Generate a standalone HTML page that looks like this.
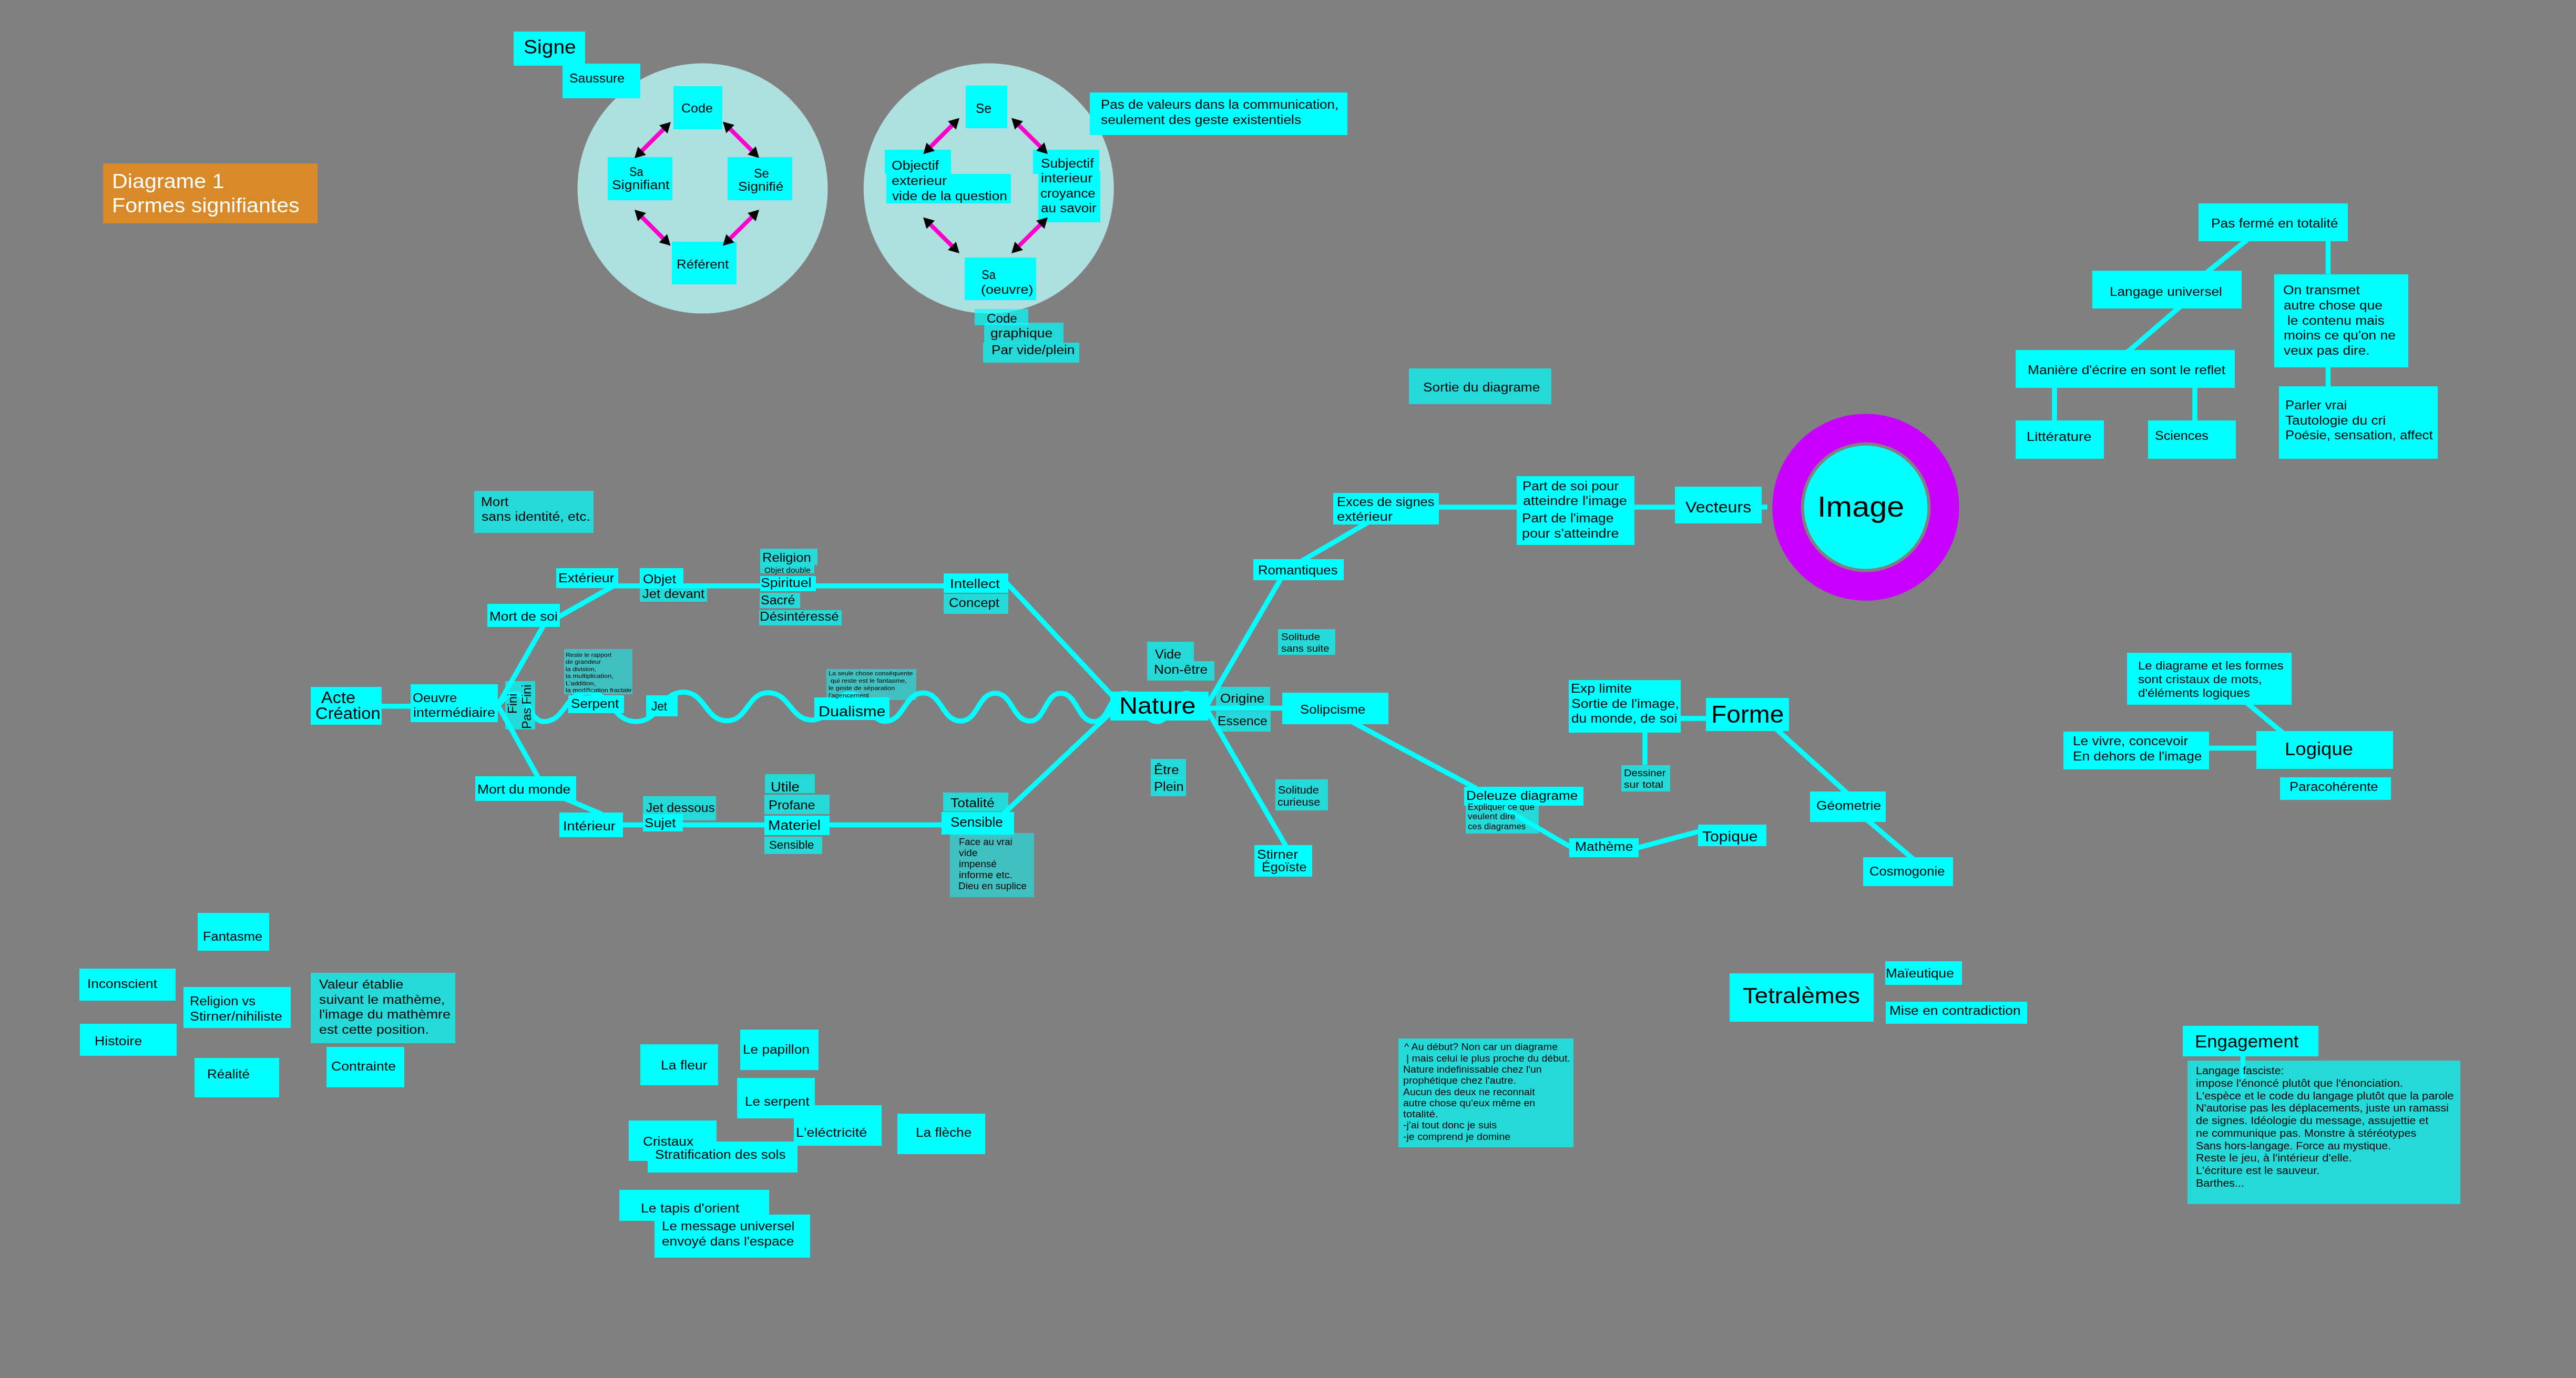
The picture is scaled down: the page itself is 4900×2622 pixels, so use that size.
<!DOCTYPE html>
<html><head><meta charset="utf-8"><style>
html,body{margin:0;padding:0;}
body{width:4900px;height:2622px;background:#808080;position:relative;overflow:hidden;font-family:"Liberation Sans",sans-serif;}
.r{position:absolute;}
.t{position:absolute;white-space:pre;transform-origin:0 0;will-change:transform;}
svg{position:absolute;left:0;top:0;}
svg line, svg path{stroke:#00ffff;stroke-width:9.5;stroke-linecap:round;}
svg line.b{stroke-linecap:butt;}
svg line.m{stroke:#ff00cc;stroke-width:8;stroke-linecap:butt;}
svg polygon.h{fill:#000;}
</style></head><body>
<svg width="4900" height="2622" viewBox="0 0 4900 2622">
<circle cx="1336.5" cy="358.5" r="238" fill="#aee0e0"/>
<circle cx="1880.75" cy="358.5" r="238" fill="#aee0e0"/>
<circle cx="3549" cy="965.2" r="177.8" fill="#c800ff"/>
<circle cx="3549" cy="965.2" r="123.4" fill="#808080"/>
<circle cx="3549" cy="965.2" r="117.4" fill="#00ffff"/>
<line class="b" x1="725.75" y1="1343.75" x2="781.00" y2="1343.75"/>
<line x1="944.02" y1="1347.21" x2="1035.48" y2="1187.54"/>
<line x1="1059.78" y1="1175.45" x2="1165.00" y2="1116.00"/>
<line class="b" x1="1165.00" y1="1114.70" x2="1795.00" y2="1114.70"/>
<line x1="1913.90" y1="1108.12" x2="2115.10" y2="1323.38"/>
<line x1="944.07" y1="1336.76" x2="1025.43" y2="1482.24"/>
<line x1="1076.96" y1="1520.69" x2="1143.04" y2="1548.31"/>
<line class="b" x1="1184.50" y1="1569.50" x2="1791.00" y2="1569.50"/>
<line x1="1908.13" y1="1549.11" x2="2116.37" y2="1352.89"/>
<line class="b" x1="2298.75" y1="1347.50" x2="2439.25" y2="1347.50"/>
<line x1="2296.98" y1="1340.18" x2="2438.02" y2="1098.32"/>
<line x1="2477.41" y1="1066.51" x2="2600.69" y2="994.89"/>
<line class="b" x1="2737.00" y1="965.00" x2="2885.00" y2="965.00"/>
<line class="b" x1="3108.90" y1="965.00" x2="3185.70" y2="965.00"/>
<line class="b" x1="3350.90" y1="965.00" x2="3361.80" y2="965.00"/>
<line x1="2296.99" y1="1352.31" x2="2448.01" y2="1613.19"/>
<line x1="2574.71" y1="1375.17" x2="2807.79" y2="1499.83"/>
<line x1="2854.81" y1="1534.49" x2="2990.19" y2="1613.01"/>
<line x1="3111.20" y1="1614.04" x2="3235.80" y2="1580.96"/>
<line class="b" x1="3197.00" y1="1367.00" x2="3245.00" y2="1367.00"/>
<line class="b" x1="3129.00" y1="1393.50" x2="3129.00" y2="1455.50"/>
<line x1="3378.05" y1="1386.47" x2="3514.45" y2="1510.03"/>
<line x1="3550.43" y1="1559.11" x2="3639.57" y2="1634.89"/>
<line x1="4272.89" y1="1336.66" x2="4342.11" y2="1394.34"/>
<line class="b" x1="4201.50" y1="1423.50" x2="4292.00" y2="1423.50"/>
<line x1="4275.66" y1="455.22" x2="4197.34" y2="518.78"/>
<line class="b" x1="4428.50" y1="459.00" x2="4428.50" y2="521.50"/>
<line x1="4147.54" y1="583.08" x2="4047.46" y2="669.42"/>
<line class="b" x1="3908.00" y1="737.50" x2="3908.00" y2="800.00"/>
<line class="b" x1="4175.00" y1="737.50" x2="4175.00" y2="800.00"/>
<line class="b" x1="4428.50" y1="699.00" x2="4428.50" y2="735.00"/>
<line x1="4266.50" y1="2009.75" x2="4266.50" y2="2048.00"/>
<path d="M947,1342 C956.6,1334 963.0,1320 979,1320 C1006.5,1320 1006.5,1373 1034,1373 C1075.5,1373 1075.5,1317 1117,1317 C1163.5,1317 1163.5,1373 1210,1373 C1255.0,1373 1255.0,1317 1300,1317 C1341.5,1317 1341.5,1371.5 1383,1371.5 C1422.0,1371.5 1422.0,1318 1461,1318 C1503.0,1318 1503.0,1370 1545,1370 C1581.0,1370 1581.0,1320 1617,1320 C1650.5,1320 1650.5,1372.5 1684,1372.5 C1720.0,1372.5 1720.0,1318.5 1756,1318.5 C1791.75,1318.5 1791.75,1372 1827.5,1372 C1860.25,1372 1860.25,1319 1893,1319 C1926.0,1319 1926.0,1372 1959,1372 C1988.25,1372 1988.25,1319 2017.5,1319 C2049.25,1319 2049.25,1373 2081,1373 C2110.0,1373 2110.0,1319 2139,1319 C2170.0,1319 2170.0,1373 2201,1373 C2229.0,1373 2229.0,1319 2257,1319 C2278.5,1319 2287.1,1358 2300,1350" fill="none"/>
</svg>
<div class="r" style="left:196px;top:311px;width:408px;height:114px;background:#d98a28"></div>
<div class="r" style="left:977px;top:60px;width:136px;height:65px;background:#00ffff"></div>
<div class="r" style="left:1070px;top:121px;width:148px;height:66px;background:#00ffff"></div>
<div class="r" style="left:1281px;top:164px;width:92.5px;height:81.5px;background:#00ffff"></div>
<div class="r" style="left:1156px;top:299px;width:122.5px;height:81.5px;background:#00ffff"></div>
<div class="r" style="left:1384px;top:299px;width:123px;height:81.5px;background:#00ffff"></div>
<div class="r" style="left:1278px;top:459.5px;width:122.5px;height:81px;background:#00ffff"></div>
<div class="r" style="left:1836.5px;top:162.5px;width:79.5px;height:81.5px;background:#00ffff"></div>
<div class="r" style="left:1683px;top:285px;width:125.8px;height:46px;background:#00ffff"></div>
<div class="r" style="left:1686px;top:331px;width:237px;height:55.8px;background:#00ffff"></div>
<div class="r" style="left:1965px;top:285px;width:126px;height:46px;background:#00ffff"></div>
<div class="r" style="left:1975.2px;top:325px;width:117.5px;height:98.2px;background:#00ffff"></div>
<div class="r" style="left:1835px;top:490px;width:135.5px;height:80.5px;background:#00ffff"></div>
<div class="r" style="left:1854px;top:588px;width:102px;height:30.5px;background:rgba(0,255,255,0.70)"></div>
<div class="r" style="left:1871.5px;top:613.5px;width:151px;height:39px;background:rgba(0,255,255,0.70)"></div>
<div class="r" style="left:1870px;top:651.5px;width:182.5px;height:38px;background:rgba(0,255,255,0.70)"></div>
<div class="r" style="left:2072.5px;top:175.75px;width:490.5px;height:81.5px;background:#00ffff"></div>
<div class="r" style="left:2680px;top:700.5px;width:270.5px;height:68px;background:rgba(0,255,255,0.70)"></div>
<div class="r" style="left:2536px;top:938px;width:201px;height:59.5px;background:#00ffff"></div>
<div class="r" style="left:2885px;top:905.7px;width:223.9px;height:130.9px;background:#00ffff"></div>
<div class="r" style="left:3185.7px;top:926px;width:165.2px;height:69.7px;background:#00ffff"></div>
<div class="r" style="left:3462px;top:965px;width:1px;height:1px;background:transparent"></div>
<div class="r" style="left:2384px;top:1063.5px;width:172px;height:40px;background:#00ffff"></div>
<div class="r" style="left:1795px;top:1090.5px;width:123px;height:37px;background:#00ffff"></div>
<div class="r" style="left:1795px;top:1129.5px;width:123px;height:38px;background:rgba(0,255,255,0.70)"></div>
<div class="r" style="left:4182px;top:387px;width:284px;height:72px;background:#00ffff"></div>
<div class="r" style="left:3980px;top:515px;width:284px;height:72px;background:#00ffff"></div>
<div class="r" style="left:4325.5px;top:521.5px;width:255px;height:177.5px;background:#00ffff"></div>
<div class="r" style="left:3834px;top:665.5px;width:416.5px;height:72px;background:#00ffff"></div>
<div class="r" style="left:3834px;top:800px;width:167.5px;height:72.5px;background:#00ffff"></div>
<div class="r" style="left:4085.5px;top:800px;width:167px;height:72.5px;background:#00ffff"></div>
<div class="r" style="left:4334.5px;top:735px;width:302px;height:137.5px;background:#00ffff"></div>
<div class="r" style="left:902px;top:934px;width:227.25px;height:80px;background:rgba(0,255,255,0.70)"></div>
<div class="r" style="left:1058px;top:1080.75px;width:117.5px;height:38.5px;background:#00ffff"></div>
<div class="r" style="left:926.75px;top:1149.25px;width:138.25px;height:43.5px;background:#00ffff"></div>
<div class="r" style="left:591px;top:1306.5px;width:134.75px;height:72px;background:#00ffff"></div>
<div class="r" style="left:781px;top:1302px;width:166px;height:72px;background:#00ffff"></div>
<div class="r" style="left:960.9px;top:1296.1px;width:57.1px;height:92.3px;background:rgba(0,255,255,0.70)"></div>
<div class="r" style="left:1072.5px;top:1235.25px;width:130px;height:86px;background:rgba(0,255,255,0.50)"></div>
<div class="r" style="left:1081px;top:1323px;width:106px;height:34px;background:#00ffff"></div>
<div class="r" style="left:1228.5px;top:1323.25px;width:60px;height:39.25px;background:#00ffff"></div>
<div class="r" style="left:1216.5px;top:1080.75px;width:83.5px;height:35.25px;background:#00ffff"></div>
<div class="r" style="left:1217.25px;top:1119.25px;width:128px;height:25.25px;background:rgba(0,255,255,0.70)"></div>
<div class="r" style="left:1446px;top:1043.75px;width:108.75px;height:31.5px;background:rgba(0,255,255,0.70)"></div>
<div class="r" style="left:1446px;top:1073.75px;width:103.25px;height:17px;background:rgba(0,255,255,0.70)"></div>
<div class="r" style="left:1446px;top:1096.25px;width:105.75px;height:28.5px;background:#00ffff"></div>
<div class="r" style="left:1445px;top:1128px;width:77px;height:28.75px;background:rgba(0,255,255,0.70)"></div>
<div class="r" style="left:1444px;top:1160.75px;width:156.5px;height:28.75px;background:rgba(0,255,255,0.70)"></div>
<div class="r" style="left:1572px;top:1272.5px;width:170.5px;height:59px;background:rgba(0,255,255,0.50)"></div>
<div class="r" style="left:1548.5px;top:1327px;width:143px;height:43px;background:#00ffff"></div>
<div class="r" style="left:904px;top:1477px;width:191.75px;height:46.75px;background:#00ffff"></div>
<div class="r" style="left:1063.5px;top:1546px;width:121px;height:46.5px;background:#00ffff"></div>
<div class="r" style="left:1223px;top:1514.5px;width:139px;height:46px;background:rgba(0,255,255,0.70)"></div>
<div class="r" style="left:1223px;top:1548.5px;width:75.5px;height:33px;background:#00ffff"></div>
<div class="r" style="left:1454.5px;top:1472.5px;width:95px;height:36.5px;background:rgba(0,255,255,0.70)"></div>
<div class="r" style="left:1454px;top:1512px;width:124px;height:36.5px;background:rgba(0,255,255,0.70)"></div>
<div class="r" style="left:1454px;top:1552px;width:124px;height:36.5px;background:#00ffff"></div>
<div class="r" style="left:1453.5px;top:1591.5px;width:110.5px;height:33px;background:rgba(0,255,255,0.70)"></div>
<div class="r" style="left:1793.5px;top:1507.5px;width:124px;height:36px;background:rgba(0,255,255,0.70)"></div>
<div class="r" style="left:1791px;top:1545px;width:137.5px;height:42.5px;background:#00ffff"></div>
<div class="r" style="left:1807px;top:1585px;width:159.5px;height:121.5px;background:rgba(0,255,255,0.50)"></div>
<div class="r" style="left:2111.75px;top:1316.25px;width:187px;height:54.5px;background:#00ffff"></div>
<div class="r" style="left:2182px;top:1221.25px;width:88.5px;height:37.75px;background:rgba(0,255,255,0.70)"></div>
<div class="r" style="left:2182px;top:1257.5px;width:128px;height:37.25px;background:rgba(0,255,255,0.70)"></div>
<div class="r" style="left:2312.5px;top:1307px;width:103.25px;height:35.5px;background:rgba(0,255,255,0.70)"></div>
<div class="r" style="left:2313px;top:1352.5px;width:103.75px;height:39.25px;background:rgba(0,255,255,0.70)"></div>
<div class="r" style="left:2439.25px;top:1318px;width:201.25px;height:60px;background:#00ffff"></div>
<div class="r" style="left:2430.75px;top:1197px;width:108.75px;height:49.25px;background:rgba(0,255,255,0.70)"></div>
<div class="r" style="left:2189px;top:1444.25px;width:66.5px;height:36.25px;background:rgba(0,255,255,0.70)"></div>
<div class="r" style="left:2189.25px;top:1478.75px;width:67px;height:35.75px;background:rgba(0,255,255,0.70)"></div>
<div class="r" style="left:2426px;top:1482.5px;width:100px;height:59.5px;background:rgba(0,255,255,0.70)"></div>
<div class="r" style="left:2386px;top:1608px;width:109.5px;height:59.5px;background:#00ffff"></div>
<div class="r" style="left:2784.5px;top:1497px;width:227px;height:36px;background:#00ffff"></div>
<div class="r" style="left:2787.5px;top:1526.5px;width:139px;height:59px;background:rgba(0,255,255,0.70)"></div>
<div class="r" style="left:2984.5px;top:1594.5px;width:132.5px;height:36px;background:#00ffff"></div>
<div class="r" style="left:3229.5px;top:1569px;width:130px;height:40.5px;background:#00ffff"></div>
<div class="r" style="left:2983.5px;top:1294px;width:213.5px;height:99.5px;background:#00ffff"></div>
<div class="r" style="left:3245px;top:1327.5px;width:158px;height:63px;background:#00ffff"></div>
<div class="r" style="left:3083.5px;top:1455.5px;width:93px;height:50.5px;background:rgba(0,255,255,0.70)"></div>
<div class="r" style="left:3442.5px;top:1506px;width:144px;height:57.5px;background:#00ffff"></div>
<div class="r" style="left:3544px;top:1631px;width:171px;height:54.5px;background:#00ffff"></div>
<div class="r" style="left:4046px;top:1242px;width:313px;height:98.5px;background:#00ffff"></div>
<div class="r" style="left:4292px;top:1390.5px;width:259.5px;height:72px;background:#00ffff"></div>
<div class="r" style="left:3924.5px;top:1391.5px;width:277px;height:72px;background:#00ffff"></div>
<div class="r" style="left:4337px;top:1478.5px;width:211px;height:43px;background:#00ffff"></div>
<div class="r" style="left:3290px;top:1852px;width:273.5px;height:91.5px;background:#00ffff"></div>
<div class="r" style="left:3586px;top:1829px;width:146px;height:44.5px;background:#00ffff"></div>
<div class="r" style="left:3587px;top:1906px;width:268.5px;height:41.5px;background:#00ffff"></div>
<div class="r" style="left:2660px;top:1975.5px;width:333px;height:207px;background:rgba(0,255,255,0.70)"></div>
<div class="r" style="left:4151.75px;top:1951.75px;width:258px;height:58px;background:#00ffff"></div>
<div class="r" style="left:4161.25px;top:2018.25px;width:518.75px;height:272.35px;background:rgba(0,255,255,0.70)"></div>
<div class="r" style="left:376px;top:1736.5px;width:135.5px;height:72px;background:#00ffff"></div>
<div class="r" style="left:150.5px;top:1843px;width:183px;height:60.5px;background:#00ffff"></div>
<div class="r" style="left:349px;top:1878px;width:203.5px;height:78px;background:#00ffff"></div>
<div class="r" style="left:152px;top:1947.5px;width:183.5px;height:61px;background:#00ffff"></div>
<div class="r" style="left:370px;top:2013px;width:160.5px;height:74.5px;background:#00ffff"></div>
<div class="r" style="left:590.5px;top:1851px;width:275px;height:133.5px;background:rgba(0,255,255,0.70)"></div>
<div class="r" style="left:620.5px;top:1992px;width:148px;height:77px;background:#00ffff"></div>
<div class="r" style="left:1217.5px;top:1987px;width:148px;height:77.5px;background:#00ffff"></div>
<div class="r" style="left:1408px;top:1958.5px;width:148.5px;height:77px;background:#00ffff"></div>
<div class="r" style="left:1509.5px;top:2103px;width:167px;height:77px;background:#00ffff"></div>
<div class="r" style="left:1401.5px;top:2051px;width:148.5px;height:76.5px;background:#00ffff"></div>
<div class="r" style="left:1706.5px;top:2119px;width:167px;height:76.5px;background:#00ffff"></div>
<div class="r" style="left:1195.5px;top:2132px;width:167px;height:76.5px;background:#00ffff"></div>
<div class="r" style="left:1232px;top:2171.5px;width:284.5px;height:59px;background:#00ffff"></div>
<div class="r" style="left:1178px;top:2263.5px;width:284.5px;height:59px;background:#00ffff"></div>
<div class="r" style="left:1244.5px;top:2311px;width:296px;height:81.5px;background:#00ffff"></div>
<svg width="4900" height="2622" viewBox="0 0 4900 2622"><line class="m" x1="1218.31" y1="289.69" x2="1264.69" y2="243.31"/><polygon class="h" points="1207.00,301.00 1228.92,294.64 1213.36,279.08"/><polygon class="h" points="1276.00,232.00 1269.64,253.92 1254.08,238.36"/><line class="m" x1="1386.31" y1="242.81" x2="1432.69" y2="289.19"/><polygon class="h" points="1375.00,231.50 1381.36,253.42 1396.92,237.86"/><polygon class="h" points="1444.00,300.50 1422.08,294.14 1437.64,278.58"/><line class="m" x1="1218.31" y1="410.31" x2="1264.19" y2="456.19"/><polygon class="h" points="1207.00,399.00 1213.36,420.92 1228.92,405.36"/><polygon class="h" points="1275.50,467.50 1253.58,461.14 1269.14,445.58"/><line class="m" x1="1432.65" y1="410.27" x2="1386.35" y2="456.23"/><polygon class="h" points="1444.00,399.00 1422.06,405.28 1437.56,420.90"/><polygon class="h" points="1375.00,467.50 1381.44,445.60 1396.94,461.22"/><line class="m" x1="1813.69" y1="235.81" x2="1767.51" y2="281.99"/><polygon class="h" points="1825.00,224.50 1803.08,230.86 1818.64,246.42"/><polygon class="h" points="1756.20,293.30 1762.56,271.38 1778.12,286.94"/><line class="m" x1="1935.35" y1="235.77" x2="1981.65" y2="281.73"/><polygon class="h" points="1924.00,224.50 1930.44,246.40 1945.94,230.78"/><polygon class="h" points="1993.00,293.00 1971.06,286.72 1986.56,271.10"/><line class="m" x1="1767.35" y1="424.77" x2="1813.65" y2="470.73"/><polygon class="h" points="1756.00,413.50 1762.44,435.40 1777.94,419.78"/><polygon class="h" points="1825.00,482.00 1803.06,475.72 1818.56,460.10"/><line class="m" x1="1981.65" y1="424.77" x2="1935.35" y2="470.73"/><polygon class="h" points="1993.00,413.50 1971.06,419.78 1986.56,435.40"/><polygon class="h" points="1924.00,482.00 1930.44,460.10 1945.94,475.72"/></svg>
<div class="t" style="left:213.39px;top:326.49px;font-size:38.4px;line-height:38.4px;transform:scaleX(1.0764);color:#fff">Diagrame 1</div>
<div class="t" style="left:213.41px;top:372.29px;font-size:38.4px;line-height:38.4px;transform:scaleX(1.0716);color:#fff">Formes signifiantes</div>
<div class="t" style="left:995.84px;top:71.24px;font-size:37.51px;line-height:37.51px;transform:scaleX(1.0404);color:#000">Signe</div>
<div class="t" style="left:1083.18px;top:136.72px;font-size:24.19px;line-height:24.19px;transform:scaleX(1.0287);color:#000">Saussure</div>
<div class="t" style="left:1296.25px;top:194.28px;font-size:24.48px;line-height:24.48px;transform:scaleX(1.0237);color:#000">Code</div>
<div class="t" style="left:1197.02px;top:315.41px;font-size:24.32px;line-height:24.32px;transform:scaleX(0.8918);color:#000">Sa</div>
<div class="t" style="left:1163.8px;top:340.41px;font-size:24.32px;line-height:24.32px;transform:scaleX(1.0936);color:#000">Signifiant</div>
<div class="t" style="left:1434.44px;top:317.8px;font-size:24.45px;line-height:24.45px;transform:scaleX(0.9612);color:#000">Se</div>
<div class="t" style="left:1403.82px;top:342.8px;font-size:24.45px;line-height:24.45px;transform:scaleX(1.0769);color:#000">Signifié</div>
<div class="t" style="left:1286.93px;top:491.29px;font-size:24.45px;line-height:24.45px;transform:scaleX(1.0577);color:#000">Référent</div>
<div class="t" style="left:1856.4px;top:193.56px;font-size:25.32px;line-height:25.32px;transform:scaleX(0.9612);color:#000">Se</div>
<div class="t" style="left:1696.31px;top:303.31px;font-size:24.08px;line-height:24.08px;transform:scaleX(1.1014);color:#000">Objectif</div>
<div class="t" style="left:1696.42px;top:331.96px;font-size:24.08px;line-height:24.08px;transform:scaleX(1.1204);color:#000">exterieur</div>
<div class="t" style="left:1696.79px;top:360.61px;font-size:24.08px;line-height:24.08px;transform:scaleX(1.0900);color:#000">vide de la question</div>
<div class="t" style="left:1979.52px;top:298.73px;font-size:24.06px;line-height:24.06px;transform:scaleX(1.0893);color:#000">Subjectif</div>
<div class="t" style="left:1979.62px;top:327.3px;font-size:24.06px;line-height:24.06px;transform:scaleX(1.1304);color:#000">interieur</div>
<div class="t" style="left:1979.44px;top:355.87px;font-size:24.06px;line-height:24.06px;transform:scaleX(1.0726);color:#000">croyance</div>
<div class="t" style="left:1979.54px;top:384.44px;font-size:24.06px;line-height:24.06px;transform:scaleX(1.0837);color:#000">au savoir</div>
<div class="t" style="left:1866.51px;top:511.1px;font-size:24.68px;line-height:24.68px;transform:scaleX(0.8918);color:#000">Sa</div>
<div class="t" style="left:1866.37px;top:539.1px;font-size:24.68px;line-height:24.68px;transform:scaleX(1.0805);color:#000">(oeuvre)</div>
<div class="t" style="left:1876.79px;top:594.5px;font-size:23.62px;line-height:23.62px;transform:scaleX(1.0237);color:#000">Code</div>
<div class="t" style="left:1884.44px;top:622.41px;font-size:24.32px;line-height:24.32px;transform:scaleX(1.0941);color:#000">graphique</div>
<div class="t" style="left:1885.91px;top:654.33px;font-size:24.41px;line-height:24.41px;transform:scaleX(1.0702);color:#000">Par vide/plein</div>
<div class="t" style="left:2093.67px;top:187.26px;font-size:24.2px;line-height:24.2px;transform:scaleX(1.0744);color:#000">Pas de valeurs dans la communication,</div>
<div class="t" style="left:2094.03px;top:215.51px;font-size:24.2px;line-height:24.2px;transform:scaleX(1.0903);color:#000">seulement des geste existentiels</div>
<div class="t" style="left:2707.32px;top:724.52px;font-size:24.19px;line-height:24.19px;transform:scaleX(1.0880);color:#000">Sortie du diagrame</div>
<div class="t" style="left:2542.96px;top:942.9px;font-size:24.33px;line-height:24.33px;transform:scaleX(1.0471);color:#000">Exces de signes</div>
<div class="t" style="left:2542.98px;top:971.4px;font-size:24.33px;line-height:24.33px;transform:scaleX(1.1204);color:#000">extérieur</div>
<div class="t" style="left:2895.93px;top:912.79px;font-size:24.22px;line-height:24.22px;transform:scaleX(1.0704);color:#000">Part de soi pour</div>
<div class="t" style="left:2896.92px;top:941.49px;font-size:24.22px;line-height:24.22px;transform:scaleX(1.1186);color:#000">atteindre l&#x27;image</div>
<div class="t" style="left:2894.7px;top:974.49px;font-size:24.22px;line-height:24.22px;transform:scaleX(1.0840);color:#000">Part de l&#x27;image</div>
<div class="t" style="left:2895.05px;top:1003.19px;font-size:24.22px;line-height:24.22px;transform:scaleX(1.1100);color:#000">pour s&#x27;atteindre</div>
<div class="t" style="left:3205.84px;top:949.93px;font-size:30.21px;line-height:30.21px;transform:scaleX(1.0663);color:#000">Vecteurs</div>
<div class="t" style="left:3457.04px;top:937.31px;font-size:55.14px;line-height:55.14px;transform:scaleX(1.0799);color:#000">Image</div>
<div class="t" style="left:2392.94px;top:1073.02px;font-size:24.19px;line-height:24.19px;transform:scaleX(1.0630);color:#000">Romantiques</div>
<div class="t" style="left:1806.53px;top:1098.79px;font-size:24.46px;line-height:24.46px;transform:scaleX(1.1226);color:#000">Intellect</div>
<div class="t" style="left:1805.21px;top:1135.41px;font-size:24.32px;line-height:24.32px;transform:scaleX(1.0601);color:#000">Concept</div>
<div class="t" style="left:4205.89px;top:413px;font-size:24.22px;line-height:24.22px;transform:scaleX(1.0865);color:#000">Pas fermé en totalité</div>
<div class="t" style="left:4012.91px;top:542.88px;font-size:24.36px;line-height:24.36px;transform:scaleX(1.0744);color:#000">Langage universel</div>
<div class="t" style="left:4343.31px;top:540.43px;font-size:24.29px;line-height:24.29px;transform:scaleX(1.0913);color:#000">On transmet</div>
<div class="t" style="left:4343.57px;top:569.03px;font-size:24.29px;line-height:24.29px;transform:scaleX(1.0785);color:#000">autre chose que</div>
<div class="t" style="left:4351.1px;top:597.63px;font-size:24.29px;line-height:24.29px;transform:scaleX(1.0872);color:#000">le contenu mais</div>
<div class="t" style="left:4343.6px;top:626.23px;font-size:24.29px;line-height:24.29px;transform:scaleX(1.0841);color:#000">moins ce qu&#x27;on ne</div>
<div class="t" style="left:4343.79px;top:654.83px;font-size:24.29px;line-height:24.29px;transform:scaleX(1.0826);color:#000">veux pas dire.</div>
<div class="t" style="left:3857.39px;top:691.56px;font-size:24.14px;line-height:24.14px;transform:scaleX(1.0937);color:#000">Manière d&#x27;écrire en sont le reflet</div>
<div class="t" style="left:3854.81px;top:818.86px;font-size:24.37px;line-height:24.37px;transform:scaleX(1.1254);color:#000">Littérature</div>
<div class="t" style="left:4099.37px;top:816.85px;font-size:24.39px;line-height:24.39px;transform:scaleX(1.0303);color:#000">Sciences</div>
<div class="t" style="left:4347.44px;top:759.03px;font-size:24.17px;line-height:24.17px;transform:scaleX(1.0654);color:#000">Parler vrai</div>
<div class="t" style="left:4346.66px;top:787.53px;font-size:24.17px;line-height:24.17px;transform:scaleX(1.0866);color:#000">Tautologie du cri</div>
<div class="t" style="left:4347.44px;top:816.03px;font-size:24.17px;line-height:24.17px;transform:scaleX(1.0678);color:#000">Poésie, sensation, affect</div>
<div class="t" style="left:915.4px;top:942.5px;font-size:24.21px;line-height:24.21px;transform:scaleX(1.0822);color:#000">Mort</div>
<div class="t" style="left:915.78px;top:971px;font-size:24.21px;line-height:24.21px;transform:scaleX(1.0987);color:#000">sans identité, etc.</div>
<div class="t" style="left:1061.62px;top:1087.98px;font-size:24.23px;line-height:24.23px;transform:scaleX(1.0991);color:#000">Extérieur</div>
<div class="t" style="left:931.15px;top:1160.8px;font-size:24.45px;line-height:24.45px;transform:scaleX(1.0736);color:#000">Mort de soi</div>
<div class="t" style="left:611.25px;top:1311.79px;font-size:30.66px;line-height:30.66px;transform:scaleX(1.0597);color:#000">Acte</div>
<div class="t" style="left:599.61px;top:1342.04px;font-size:30.66px;line-height:30.66px;transform:scaleX(1.0679);color:#000">Création</div>
<div class="t" style="left:785.34px;top:1315.88px;font-size:24.35px;line-height:24.35px;transform:scaleX(1.0574);color:#000">Oeuvre</div>
<div class="t" style="left:785.68px;top:1344.13px;font-size:24.35px;line-height:24.35px;transform:scaleX(1.1080);color:#000">intermédiaire</div>
<div class="t" style="left:1076.02px;top:1240.61px;font-size:11.38px;line-height:11.38px;transform:scaleX(1.0782);color:#000">Reste le rapport</div>
<div class="t" style="left:1076.07px;top:1254.11px;font-size:11.38px;line-height:11.38px;transform:scaleX(1.0942);color:#000">de grandeur</div>
<div class="t" style="left:1076.19px;top:1267.61px;font-size:11.38px;line-height:11.38px;transform:scaleX(1.0936);color:#000">la division,</div>
<div class="t" style="left:1076.17px;top:1281.11px;font-size:11.38px;line-height:11.38px;transform:scaleX(1.1219);color:#000">la multiplication,</div>
<div class="t" style="left:1075.99px;top:1294.61px;font-size:11.38px;line-height:11.38px;transform:scaleX(1.1051);color:#000">L&#x27;addition,</div>
<div class="t" style="left:1076.18px;top:1308.11px;font-size:11.38px;line-height:11.38px;transform:scaleX(1.1096);color:#000">la modification fractale</div>
<div class="t" style="left:1085.83px;top:1327.32px;font-size:24.43px;line-height:24.43px;transform:scaleX(1.0679);color:#000">Serpent</div>
<div class="t" style="left:1239.16px;top:1332.7px;font-size:23.09px;line-height:23.09px;transform:scaleX(0.9752);color:#000">Jet</div>
<div class="t" style="left:1223.06px;top:1090.31px;font-size:24.44px;line-height:24.44px;transform:scaleX(1.0778);color:#000">Objet</div>
<div class="t" style="left:1222.12px;top:1118.25px;font-size:23.91px;line-height:23.91px;transform:scaleX(1.0706);color:#000">Jet devant</div>
<div class="t" style="left:1450.45px;top:1048.53px;font-size:24.48px;line-height:24.48px;transform:scaleX(1.0495);color:#000">Religion</div>
<div class="t" style="left:1453.55px;top:1078.16px;font-size:14.28px;line-height:14.28px;transform:scaleX(1.0856);color:#000">Objet double</div>
<div class="t" style="left:1447.05px;top:1097.07px;font-size:24.43px;line-height:24.43px;transform:scaleX(1.0936);color:#000">Spirituel</div>
<div class="t" style="left:1447.12px;top:1130.24px;font-size:24.52px;line-height:24.52px;transform:scaleX(1.0196);color:#000">Sacré</div>
<div class="t" style="left:1445.43px;top:1161.17px;font-size:24.31px;line-height:24.31px;transform:scaleX(1.0625);color:#000">Désintéressé</div>
<div class="t" style="left:1575.99px;top:1275.97px;font-size:11.84px;line-height:11.84px;transform:scaleX(1.0651);color:#000">La seule chose conséquente</div>
<div class="t" style="left:1579.63px;top:1289.97px;font-size:11.84px;line-height:11.84px;transform:scaleX(1.0960);color:#000">qui reste est le fantasme,</div>
<div class="t" style="left:1576.16px;top:1303.97px;font-size:11.84px;line-height:11.84px;transform:scaleX(1.0860);color:#000">le geste de séparation</div>
<div class="t" style="left:1576.15px;top:1317.97px;font-size:11.84px;line-height:11.84px;transform:scaleX(1.0994);color:#000">l&#x27;agencement</div>
<div class="t" style="left:1556.55px;top:1339.4px;font-size:28.46px;line-height:28.46px;transform:scaleX(1.0742);color:#000">Dualisme</div>
<div class="t" style="left:907.89px;top:1489.99px;font-size:24.23px;line-height:24.23px;transform:scaleX(1.0882);color:#000">Mort du monde</div>
<div class="t" style="left:1071.05px;top:1559.52px;font-size:24.19px;line-height:24.19px;transform:scaleX(1.1263);color:#000">Intérieur</div>
<div class="t" style="left:1229.13px;top:1524.86px;font-size:23.78px;line-height:23.78px;transform:scaleX(1.0303);color:#000">Jet dessous</div>
<div class="t" style="left:1226.33px;top:1554.18px;font-size:24.59px;line-height:24.59px;transform:scaleX(1.0602);color:#000">Sujet</div>
<div class="t" style="left:1466.45px;top:1484.9px;font-size:24.92px;line-height:24.92px;transform:scaleX(1.0995);color:#000">Utile</div>
<div class="t" style="left:1461.97px;top:1520.3px;font-size:24.45px;line-height:24.45px;transform:scaleX(1.0363);color:#000">Profane</div>
<div class="t" style="left:1460.75px;top:1557.58px;font-size:25.89px;line-height:25.89px;transform:scaleX(1.0874);color:#000">Materiel</div>
<div class="t" style="left:1463px;top:1597.96px;font-size:21.31px;line-height:21.31px;transform:scaleX(1.0464);color:#000">Sensible</div>
<div class="t" style="left:1808.47px;top:1515.71px;font-size:23.97px;line-height:23.97px;transform:scaleX(1.1036);color:#000">Totalité</div>
<div class="t" style="left:1807.83px;top:1552.43px;font-size:24.88px;line-height:24.88px;transform:scaleX(1.0464);color:#000">Sensible</div>
<div class="t" style="left:1823.52px;top:1593.55px;font-size:17.66px;line-height:17.66px;transform:scaleX(1.0454);color:#000">Face au vrai</div>
<div class="t" style="left:1823.81px;top:1614.55px;font-size:17.66px;line-height:17.66px;transform:scaleX(1.0936);color:#000">vide</div>
<div class="t" style="left:1823.77px;top:1635.55px;font-size:17.66px;line-height:17.66px;transform:scaleX(1.0756);color:#000">impensé</div>
<div class="t" style="left:1823.73px;top:1656.55px;font-size:17.66px;line-height:17.66px;transform:scaleX(1.1052);color:#000">informe etc.</div>
<div class="t" style="left:1823.48px;top:1677.55px;font-size:17.66px;line-height:17.66px;transform:scaleX(1.0760);color:#000">Dieu en suplice</div>
<div class="t" style="left:2129.12px;top:1320.96px;font-size:44.92px;line-height:44.92px;transform:scaleX(1.0801);color:#000">Nature</div>
<div class="t" style="left:2196.87px;top:1232.5px;font-size:23.92px;line-height:23.92px;transform:scaleX(1.0561);color:#000">Vide</div>
<div class="t" style="left:2195.4px;top:1261.55px;font-size:24.45px;line-height:24.45px;transform:scaleX(1.0726);color:#000">Non-être</div>
<div class="t" style="left:2321.32px;top:1317.48px;font-size:24.24px;line-height:24.24px;transform:scaleX(1.0790);color:#000">Origine</div>
<div class="t" style="left:2315.52px;top:1359.67px;font-size:24.3px;line-height:24.3px;transform:scaleX(1.0176);color:#000">Essence</div>
<div class="t" style="left:2472.59px;top:1337.98px;font-size:24.24px;line-height:24.24px;transform:scaleX(1.0608);color:#000">Solipcisme</div>
<div class="t" style="left:2437.33px;top:1201.88px;font-size:19.04px;line-height:19.04px;transform:scaleX(1.0764);color:#000">Solitude</div>
<div class="t" style="left:2437.46px;top:1223.63px;font-size:19.04px;line-height:19.04px;transform:scaleX(1.0683);color:#000">sans suite</div>
<div class="t" style="left:2195.42px;top:1453.11px;font-size:24.67px;line-height:24.67px;transform:scaleX(1.0549);color:#000">Être</div>
<div class="t" style="left:2195.46px;top:1484.97px;font-size:24.84px;line-height:24.84px;transform:scaleX(1.0259);color:#000">Plein</div>
<div class="t" style="left:2430.53px;top:1493.07px;font-size:19.99px;line-height:19.99px;transform:scaleX(1.0764);color:#000">Solitude</div>
<div class="t" style="left:2430.45px;top:1516.07px;font-size:19.99px;line-height:19.99px;transform:scaleX(1.0761);color:#000">curieuse</div>
<div class="t" style="left:2391.3px;top:1613.93px;font-size:24.3px;line-height:24.3px;transform:scaleX(1.0932);color:#000">Stirner</div>
<div class="t" style="left:2400.48px;top:1637.93px;font-size:24.3px;line-height:24.3px;transform:scaleX(1.0375);color:#000">Égoïste</div>
<div class="t" style="left:2788.91px;top:1501.95px;font-size:24.27px;line-height:24.27px;transform:scaleX(1.0779);color:#000">Deleuze diagrame</div>
<div class="t" style="left:2791.63px;top:1527.59px;font-size:15.83px;line-height:15.83px;transform:scaleX(1.0778);color:#000">Expliquer ce que</div>
<div class="t" style="left:2791.93px;top:1546.09px;font-size:15.83px;line-height:15.83px;transform:scaleX(1.1055);color:#000">veulent dire</div>
<div class="t" style="left:2791.72px;top:1564.59px;font-size:15.83px;line-height:15.83px;transform:scaleX(1.0715);color:#000">ces diagrames</div>
<div class="t" style="left:2996.38px;top:1599.24px;font-size:24.52px;line-height:24.52px;transform:scaleX(1.0801);color:#000">Mathème</div>
<div class="t" style="left:3238.4px;top:1576.93px;font-size:28.43px;line-height:28.43px;transform:scaleX(1.0600);color:#000">Topique</div>
<div class="t" style="left:2988.36px;top:1297.89px;font-size:24.34px;line-height:24.34px;transform:scaleX(1.1013);color:#000">Exp limite</div>
<div class="t" style="left:2988.6px;top:1326.64px;font-size:24.34px;line-height:24.34px;transform:scaleX(1.0949);color:#000">Sortie de l&#x27;image,</div>
<div class="t" style="left:2988.52px;top:1355.39px;font-size:24.34px;line-height:24.34px;transform:scaleX(1.0784);color:#000">du monde, de soi</div>
<div class="t" style="left:3255.17px;top:1335.79px;font-size:46.31px;line-height:46.31px;transform:scaleX(1.0348);color:#000">Forme</div>
<div class="t" style="left:3088.89px;top:1462.44px;font-size:18.97px;line-height:18.97px;transform:scaleX(1.0613);color:#000">Dessiner</div>
<div class="t" style="left:3089.14px;top:1483.94px;font-size:18.97px;line-height:18.97px;transform:scaleX(1.1132);color:#000">sur total</div>
<div class="t" style="left:3454.68px;top:1521.42px;font-size:24.31px;line-height:24.31px;transform:scaleX(1.0847);color:#000">Géometrie</div>
<div class="t" style="left:3555.72px;top:1645.5px;font-size:24.21px;line-height:24.21px;transform:scaleX(1.0549);color:#000">Cosmogonie</div>
<div class="t" style="left:4066.58px;top:1255.78px;font-size:22.11px;line-height:22.11px;transform:scaleX(1.0828);color:#000">Le diagrame et les formes</div>
<div class="t" style="left:4066.93px;top:1281.78px;font-size:22.11px;line-height:22.11px;transform:scaleX(1.0968);color:#000">sont cristaux de mots,</div>
<div class="t" style="left:4066.69px;top:1307.78px;font-size:22.11px;line-height:22.11px;transform:scaleX(1.0933);color:#000">d&#x27;éléments logiques</div>
<div class="t" style="left:4345.58px;top:1408.32px;font-size:34.47px;line-height:34.47px;transform:scaleX(1.0600);color:#000">Logique</div>
<div class="t" style="left:3942.9px;top:1397.95px;font-size:24.27px;line-height:24.27px;transform:scaleX(1.0835);color:#000">Le vivre, concevoir</div>
<div class="t" style="left:3942.9px;top:1426.95px;font-size:24.27px;line-height:24.27px;transform:scaleX(1.0797);color:#000">En dehors de l&#x27;image</div>
<div class="t" style="left:4355.44px;top:1485.39px;font-size:24.34px;line-height:24.34px;transform:scaleX(1.0566);color:#000">Paracohérente</div>
<div class="t" style="left:3315.09px;top:1874.1px;font-size:42.4px;line-height:42.4px;transform:scaleX(1.0757);color:#000">Tetralèmes</div>
<div class="t" style="left:3586.9px;top:1840.31px;font-size:24.43px;line-height:24.43px;transform:scaleX(1.0741);color:#000">Maïeutique</div>
<div class="t" style="left:3593.89px;top:1911.41px;font-size:24.32px;line-height:24.32px;transform:scaleX(1.0870);color:#000">Mise en contradiction</div>
<div class="t" style="left:2670.9px;top:1984.3px;font-size:17.95px;line-height:17.95px;transform:scaleX(1.0952);color:#000">^ Au début? Non car un diagrame</div>
<div class="t" style="left:2674.96px;top:2005.6px;font-size:17.95px;line-height:17.95px;transform:scaleX(1.0909);color:#000">| mais celui le plus proche du début.</div>
<div class="t" style="left:2669.18px;top:2026.9px;font-size:17.95px;line-height:17.95px;transform:scaleX(1.0863);color:#000">Nature indefinissable chez l&#x27;un</div>
<div class="t" style="left:2669.38px;top:2048.2px;font-size:17.95px;line-height:17.95px;transform:scaleX(1.0978);color:#000">prophétique chez l&#x27;autre.</div>
<div class="t" style="left:2669.28px;top:2069.5px;font-size:17.95px;line-height:17.95px;transform:scaleX(1.0782);color:#000">Aucun des deux ne reconnait</div>
<div class="t" style="left:2669.36px;top:2090.8px;font-size:17.95px;line-height:17.95px;transform:scaleX(1.0886);color:#000">autre chose qu&#x27;eux même en</div>
<div class="t" style="left:2669.23px;top:2112.1px;font-size:17.95px;line-height:17.95px;transform:scaleX(1.1535);color:#000">totalité.</div>
<div class="t" style="left:2669.08px;top:2133.4px;font-size:17.95px;line-height:17.95px;transform:scaleX(1.0997);color:#000">-j&#x27;ai tout donc je suis</div>
<div class="t" style="left:2669.09px;top:2154.7px;font-size:17.95px;line-height:17.95px;transform:scaleX(1.0890);color:#000">-je comprend je domine</div>
<div class="t" style="left:4174.71px;top:1966.01px;font-size:32.47px;line-height:32.47px;transform:scaleX(1.0726);color:#000">Engagement</div>
<div class="t" style="left:4176.54px;top:2028.36px;font-size:19.95px;line-height:19.95px;transform:scaleX(1.0718);color:#000">Langage fasciste:</div>
<div class="t" style="left:4176.82px;top:2052.06px;font-size:19.95px;line-height:19.95px;transform:scaleX(1.1008);color:#000">impose l&#x27;énoncé plutôt que l&#x27;énonciation.</div>
<div class="t" style="left:4176.51px;top:2075.76px;font-size:19.95px;line-height:19.95px;transform:scaleX(1.0885);color:#000">L&#x27;espèce et le code du langage plutôt que la parole</div>
<div class="t" style="left:4176.52px;top:2099.46px;font-size:19.95px;line-height:19.95px;transform:scaleX(1.0835);color:#000">N&#x27;autorise pas les déplacements, juste un ramassi</div>
<div class="t" style="left:4176.62px;top:2123.16px;font-size:19.95px;line-height:19.95px;transform:scaleX(1.0813);color:#000">de signes. Idéologie du message, assujettie et</div>
<div class="t" style="left:4176.75px;top:2146.86px;font-size:19.95px;line-height:19.95px;transform:scaleX(1.0810);color:#000">ne communique pas. Monstre à stéréotypes</div>
<div class="t" style="left:4176.72px;top:2170.56px;font-size:19.95px;line-height:19.95px;transform:scaleX(1.0661);color:#000">Sans hors-langage. Force au mystique.</div>
<div class="t" style="left:4176.5px;top:2194.26px;font-size:19.95px;line-height:19.95px;transform:scaleX(1.0985);color:#000">Reste le jeu, à l&#x27;intérieur d&#x27;elle.</div>
<div class="t" style="left:4176.51px;top:2217.96px;font-size:19.95px;line-height:19.95px;transform:scaleX(1.0919);color:#000">L&#x27;écriture est le sauveur.</div>
<div class="t" style="left:4176.53px;top:2241.66px;font-size:19.95px;line-height:19.95px;transform:scaleX(1.0782);color:#000">Barthes...</div>
<div class="t" style="left:386.46px;top:1770.29px;font-size:24.46px;line-height:24.46px;transform:scaleX(1.0411);color:#000">Fantasme</div>
<div class="t" style="left:166.13px;top:1860.36px;font-size:24.37px;line-height:24.37px;transform:scaleX(1.0794);color:#000">Inconscient</div>
<div class="t" style="left:360.95px;top:1893px;font-size:24.21px;line-height:24.21px;transform:scaleX(1.0561);color:#000">Religion vs</div>
<div class="t" style="left:361.1px;top:1921.5px;font-size:24.21px;line-height:24.21px;transform:scaleX(1.1087);color:#000">Stirner/nihiliste</div>
<div class="t" style="left:179.87px;top:1969.14px;font-size:24.64px;line-height:24.64px;transform:scaleX(1.0815);color:#000">Histoire</div>
<div class="t" style="left:394.42px;top:2032.19px;font-size:24.58px;line-height:24.58px;transform:scaleX(1.0563);color:#000">Réalité</div>
<div class="t" style="left:606.87px;top:1861.45px;font-size:24.27px;line-height:24.27px;transform:scaleX(1.0927);color:#000">Valeur établie</div>
<div class="t" style="left:607.24px;top:1889.95px;font-size:24.27px;line-height:24.27px;transform:scaleX(1.1027);color:#000">suivant le mathème,</div>
<div class="t" style="left:607.23px;top:1918.45px;font-size:24.27px;line-height:24.27px;transform:scaleX(1.1068);color:#000">l&#x27;image du mathèmre</div>
<div class="t" style="left:606.97px;top:1946.95px;font-size:24.27px;line-height:24.27px;transform:scaleX(1.1064);color:#000">est cette position.</div>
<div class="t" style="left:629.67px;top:2017.4px;font-size:24.33px;line-height:24.33px;transform:scaleX(1.0956);color:#000">Contrainte</div>
<div class="t" style="left:1257.38px;top:2015.32px;font-size:24.42px;line-height:24.42px;transform:scaleX(1.0869);color:#000">La fleur</div>
<div class="t" style="left:1413.4px;top:1985.29px;font-size:24.46px;line-height:24.46px;transform:scaleX(1.0722);color:#000">Le papillon</div>
<div class="t" style="left:1514.32px;top:2143.37px;font-size:24.37px;line-height:24.37px;transform:scaleX(1.1179);color:#000">L&#x27;eléctricité</div>
<div class="t" style="left:1416.92px;top:2084.42px;font-size:24.31px;line-height:24.31px;transform:scaleX(1.0683);color:#000">Le serpent</div>
<div class="t" style="left:1741.91px;top:2143.22px;font-size:24.55px;line-height:24.55px;transform:scaleX(1.0664);color:#000">La flèche</div>
<div class="t" style="left:1223.19px;top:2160.35px;font-size:24.38px;line-height:24.38px;transform:scaleX(1.0736);color:#000">Cristaux</div>
<div class="t" style="left:1245.82px;top:2185.03px;font-size:24.18px;line-height:24.18px;transform:scaleX(1.0882);color:#000">Stratification des sols</div>
<div class="t" style="left:1218.87px;top:2286.95px;font-size:24.27px;line-height:24.27px;transform:scaleX(1.0983);color:#000">Le tapis d&#x27;orient</div>
<div class="t" style="left:1258.92px;top:2321.4px;font-size:24.33px;line-height:24.33px;transform:scaleX(1.0663);color:#000">Le message universel</div>
<div class="t" style="left:1259.02px;top:2349.9px;font-size:24.33px;line-height:24.33px;transform:scaleX(1.0773);color:#000">envoyé dans l&#x27;espace</div>
<div class="t" style="left:981.8px;top:1355.8px;transform:rotate(-90deg)"><div class="t" style="left:-1.91px;top:-19.35px;font-size:24.03px;line-height:24.03px;transform:scaleX(0.9940)">Fini</div></div>
<div class="t" style="left:1009.2px;top:1384.5px;transform:rotate(-90deg)"><div class="t" style="left:-1.87px;top:-19.35px;font-size:24.03px;line-height:24.03px;transform:scaleX(0.9726)">Pas Fini</div></div>
</body></html>
